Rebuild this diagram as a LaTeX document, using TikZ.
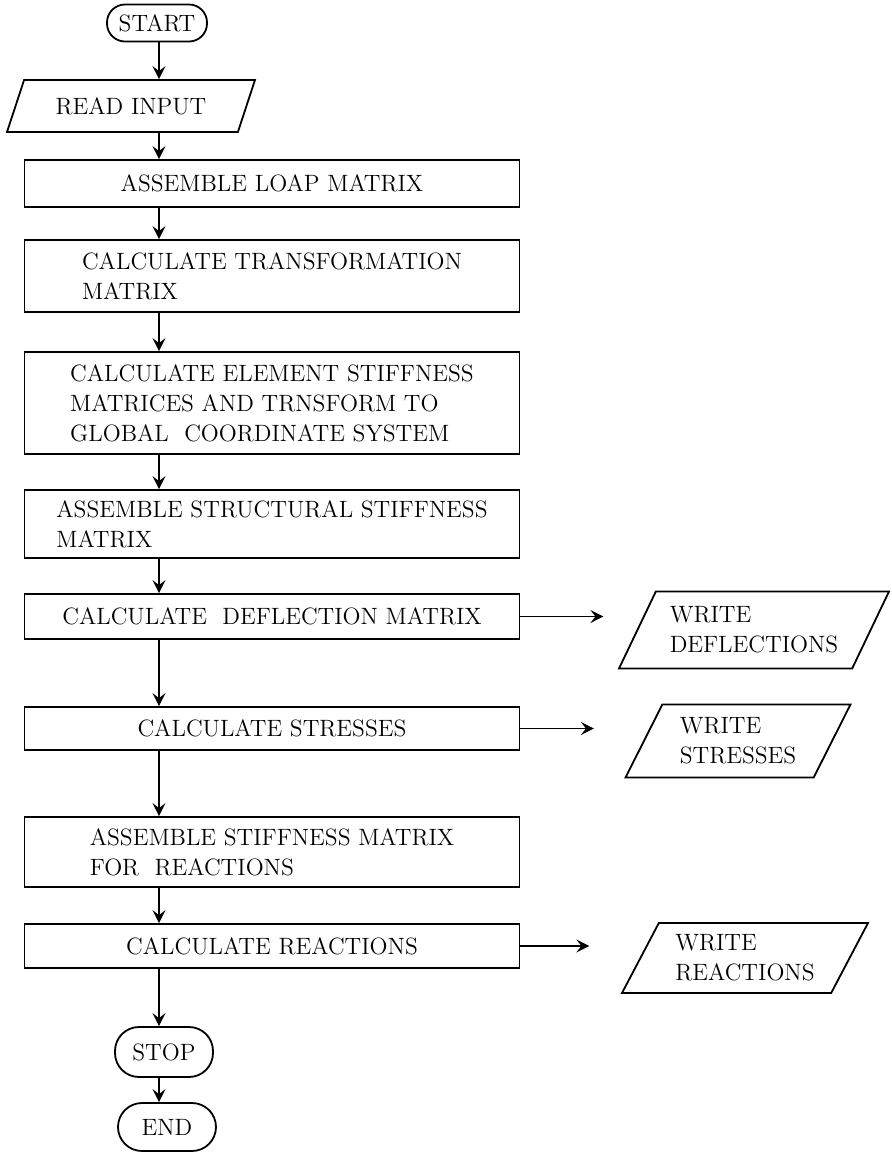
\documentclass[tikz,border=0pt]{standalone}
\usepackage{tikz}
\usetikzlibrary{shapes.geometric, arrows.meta, positioning}

\begin{document}
\begin{tikzpicture}[x=0.5pt, y=-0.5pt,
    font=\fontsize{11.8}{15}\selectfont,
    terminal/.style={rectangle, draw, rounded corners=9pt, minimum width=50pt, minimum height=18.5pt, inner sep=1pt, line width=0.9pt},
    io/.style={trapezium, trapezium left angle=56, trapezium right angle=124, trapezium stretches body, draw, align=left, inner sep=2pt, line width=0.9pt},
    process/.style={rectangle, draw, minimum width=247.5pt, align=left, line width=0.9pt},
    arrow/.style={-{Stealth[length=6.5pt, width=6.5pt, inset=2.5pt]}, line width=0.9pt}
]
    \useasboundingbox (0,0) rectangle (892,1153);
    \coordinate (spine) at (159,0);

    % Start and input
    \node[terminal] (start) at (157,23) {START};
    \node[io, minimum width=124pt, minimum height=26pt] (read) at (131,106) {READ INPUT};

    % Processing steps
    \node[process, minimum height=23.5pt] (loap) at (272,183.5) {ASSEMBLE LOAP MATRIX};
    \node[process, minimum height=36pt] (trans) at (272,276) {CALCULATE TRANSFORMATION\\MATRIX};
    \node[process, minimum height=51pt] (elem) at (272,403) {CALCULATE ELEMENT STIFFNESS\\MATRICES AND TRNSFORM TO\\GLOBAL\ \ COORDINATE SYSTEM};
    \node[process, minimum height=34pt] (struct) at (272,524) {ASSEMBLE STRUCTURAL STIFFNESS\\MATRIX};
    \node[process, minimum height=22.5pt] (defl) at (272,616.5) {CALCULATE\ \ DEFLECTION MATRIX};
    \node[process, minimum height=21.5pt] (stress) at (272,728.5) {CALCULATE STRESSES};
    \node[process, minimum height=35pt] (asmreact) at (272,852) {ASSEMBLE STIFFNESS MATRIX\\FOR\ \ REACTIONS};
    \node[process, minimum height=22pt] (calcreact) at (272,946) {CALCULATE REACTIONS};

    % Output
    \node[io, minimum width=135pt, minimum height=38.5pt] (wdefl) at (754,630) {WRITE\\DEFLECTIONS};
    \node[io, minimum width=112.5pt, minimum height=36.5pt] (wstress) at (738,741) {WRITE\\STRESSES};
    \node[io, minimum width=123pt, minimum height=35pt] (wreact) at (745,958) {WRITE\\REACTIONS};

    % End
    \node[terminal, rounded corners=12pt, minimum width=49pt, minimum height=25pt] (stop) at (164,1052) {STOP};
    \node[terminal, rounded corners=12pt, minimum width=49pt, minimum height=24pt] (end) at (167,1127) {END};

    % Arrows
    \draw[arrow] (spine |- start.south) -- (spine |- read.north);
    \draw[arrow] (spine |- read.south) -- (spine |- loap.north);
    \draw[arrow] (spine |- loap.south) -- (spine |- trans.north);
    \draw[arrow] (spine |- trans.south) -- (spine |- elem.north);
    \draw[arrow] (spine |- elem.south) -- (spine |- struct.north);
    \draw[arrow] (spine |- struct.south) -- (spine |- defl.north);
    \draw[arrow] (spine |- defl.south) -- (spine |- stress.north);
    \draw[arrow] (spine |- stress.south) -- (spine |- asmreact.north);
    \draw[arrow] (spine |- asmreact.south) -- (spine |- calcreact.north);
    \draw[arrow] (spine |- calcreact.south) -- (spine |- stop.north);
    \draw[arrow] (spine |- stop.south) -- (spine |- end.north);
    \draw[arrow, shorten >=16.5pt] (defl.east) -- (defl.east -| wdefl.west);
    \draw[arrow, shorten >=24.5pt] (stress.east) -- (stress.east -| wstress.west);
    \draw[arrow, shorten >=25pt] (calcreact.east) -- (calcreact.east -| wreact.west);
\end{tikzpicture}
\end{document}
